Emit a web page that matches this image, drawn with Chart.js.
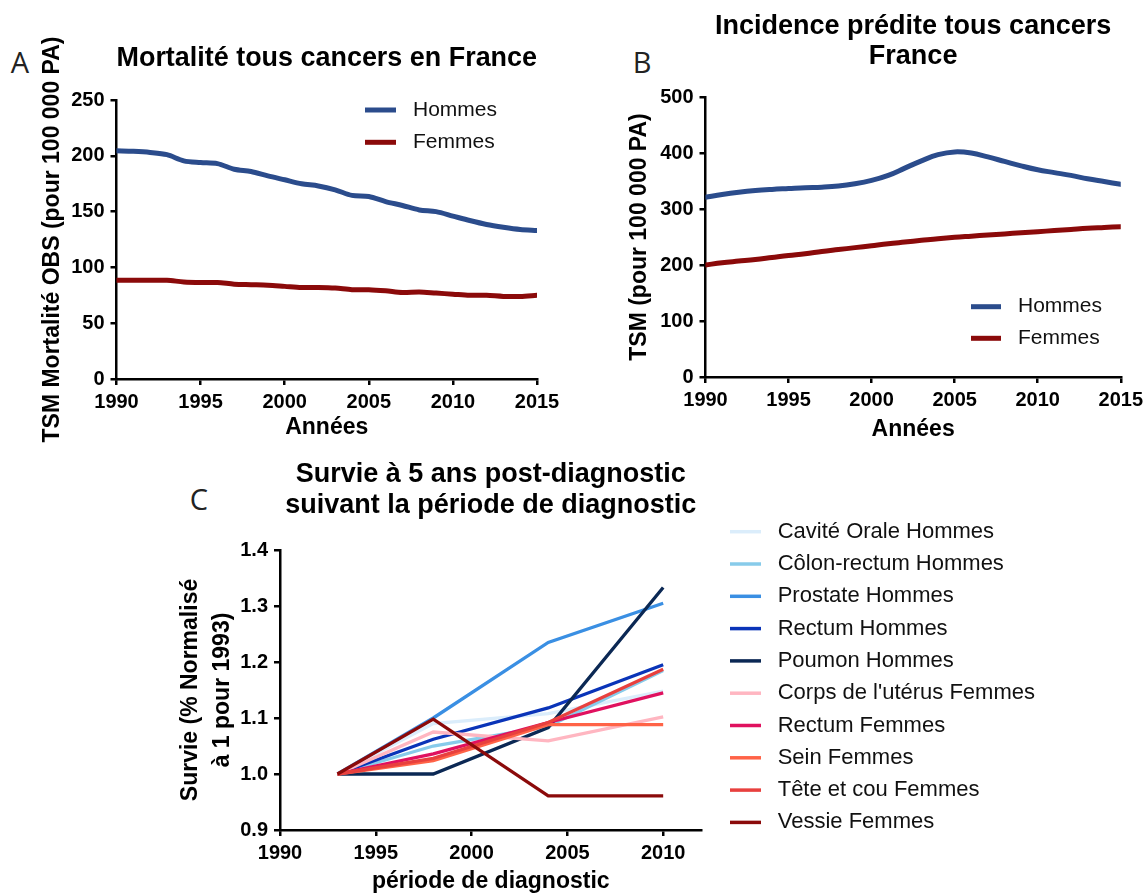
<!DOCTYPE html>
<html>
<head>
<meta charset="utf-8">
<script src="https://cdn.jsdelivr.net/npm/chart.js@4.4.0/dist/chart.umd.min.js"></script>
<style>
  body { margin: 0; background: #fff; width: 1148px; height: 895px; position: relative; overflow: hidden; }
  canvas { position: absolute; }
  .lettre { position: absolute; font-family: 'Open Sans', sans-serif; font-size: 29px; color: #222; transform: translate(-50%, -50%); line-height: 1; }
</style>
</head>
<body>
<div class="lettre" style="left:20px; top:61px">A</div>
<div class="lettre" style="left:642px; top:61px">B</div>
<div class="lettre" style="left:199px; top:498px">C</div>
<canvas id="chartA" width="570" height="450" style="left:0; top:0"></canvas>
<canvas id="chartB" width="558" height="450" style="left:590px; top:0"></canvas>
<canvas id="chartC" width="998" height="452" style="left:150px; top:445px"></canvas>
<script>
// --- données ---
const annees = [1990, 1991, 1992, 1993, 1994, 1995, 1996, 1997, 1998, 1999, 2000, 2001, 2002,
                2003, 2004, 2005, 2006, 2007, 2008, 2009, 2010, 2011, 2012, 2013, 2014, 2015];

const mortaliteHommes = [204.5, 204, 203, 201, 195.5, 194, 193, 188, 186, 182, 178.5, 175, 173,
                         169.5, 164.5, 163.5, 159, 155.5, 151.5, 150, 146, 142, 138.5, 136, 134, 133];
const mortaliteFemmes = [88.5, 88.5, 88.5, 88.5, 87, 86.5, 86.5, 85, 84.5, 84, 83, 82, 82,
                         81.5, 80, 80, 79, 77.5, 78, 77, 76, 75, 75, 74, 74, 75];

const incidenceHommes = [321, 326, 330, 333, 335, 336.5, 338, 339, 341, 345, 351, 360, 373,
                         386, 397, 402, 400, 393, 385, 377, 370, 365, 360, 354, 349, 344];
const incidenceFemmes = [200, 204, 207, 210, 213.5, 217, 220, 224, 227.5, 231, 234.5, 238, 241,
                         244, 247, 249.5, 251.5, 253.5, 255.5, 257.5, 259.5, 261.5, 263.5, 265.5, 267, 268.5];

const periodes = [1993, 1998, 2004, 2010];
const localisations = ['Cavité Orale Hommes', 'Côlon-rectum Hommes', 'Prostate Hommes', 'Rectum Hommes',
                       'Poumon Hommes', "Corps de l'utérus Femmes", 'Rectum Femmes', 'Sein Femmes',
                       'Tête et cou Femmes', 'Vessie Femmes'];
const survie = [
  [1, 1.09, 1.108, 1.148],
  [1, 1.05, 1.085, 1.185],
  [1, 1.10, 1.235, 1.305],
  [1, 1.062, 1.118, 1.195],
  [1, 1.0, 1.083, 1.333],
  [1, 1.075, 1.059, 1.102],
  [1, 1.036, 1.092, 1.145],
  [1, 1.024, 1.088, 1.088],
  [1, 1.028, 1.092, 1.187],
  [1, 1.098, 0.961, 0.961]
];
const couleursSurvie = ['#dbedfb', '#87cbea', '#3a8fe3', '#0a34b8', '#0b2854',
                        '#ffb6c1', '#e0115f', '#ff6347', '#e8403e', '#8b0a0a'];

const bleu = '#2b4c8c';
const rouge = '#8b0a0a';

Chart.defaults.font.family = "'Liberation Sans', Arial, sans-serif";
Chart.defaults.color = '#000';

// légende dessinée à une position fixe
const lineLegend = {
  id: 'lineLegend',
  afterDraw(chart, args, opts) {
    const ctx = chart.ctx;
    ctx.save();
    ctx.font = opts.font;
    ctx.textBaseline = 'middle';
    ctx.fillStyle = '#111';
    chart.data.datasets.forEach((ds, i) => {
      const y = opts.y + i * opts.dy;
      ctx.strokeStyle = ds.borderColor;
      ctx.lineWidth = opts.lineWidth;
      ctx.beginPath();
      ctx.moveTo(opts.x, y);
      ctx.lineTo(opts.x + opts.len, y);
      ctx.stroke();
      ctx.fillText(ds.label, opts.textX, y);
    });
    ctx.restore();
  }
};

function points(xs, ys) {
  return xs.map((x, i) => ({ x: x, y: ys[i] }));
}

function axeX(min, max, titre, hauteur) {
  return {
    type: 'linear', min: min, max: max,
    ticks: { stepSize: 5, includeBounds: false, padding: 5, maxRotation: 0,
             font: { size: 20, weight: 'bold' }, callback: v => String(v) },
    grid: { display: true, drawOnChartArea: false, drawTicks: true, tickLength: 6, color: '#000', lineWidth: 2.5 },
    border: { display: true, color: '#000', width: 2.5 },
    title: { display: true, text: titre, font: { size: 23, weight: 'bold' }, padding: { top: 0, bottom: 0 } },
    afterFit: s => { s.height = hauteur; }
  };
}

function axeY(min, max, pas, titre, largeur, decalage, fmt, interligne) {
  return {
    min: min, max: max,
    ticks: { stepSize: pas, padding: 6, font: { size: 20, weight: 'bold' }, callback: fmt },
    grid: { display: true, drawOnChartArea: false, drawTicks: true, tickLength: 6, color: '#000', lineWidth: 2.5 },
    border: { display: true, color: '#000', width: 2.5 },
    title: { display: true, text: titre, font: { size: 23, weight: 'bold', lineHeight: interligne || 1.2 },
             padding: { top: decalage, bottom: 0 } },
    afterFit: s => { s.width = largeur; }
  };
}

function serie(label, valeurs, couleur, xs, tension) {
  return {
    label: label, data: points(xs, valeurs), borderColor: couleur, backgroundColor: couleur,
    borderWidth: 5, pointRadius: 0, tension: tension, borderCapStyle: 'round', fill: false
  };
}

// A
new Chart(document.getElementById('chartA'), {
  type: 'line',
  data: { datasets: [
    serie('Hommes', mortaliteHommes, bleu, annees, 0.3),
    serie('Femmes', mortaliteFemmes, rouge, annees, 0.3)
  ] },
  options: {
    responsive: false, animation: false, devicePixelRatio: 1,
    layout: { padding: { top: 0, left: 0, right: 33, bottom: 8.2 } },
    scales: {
      x: axeX(1990, 2015, 'Années', 62.8),
      y: axeY(0, 250, 50, 'TSM Mortalité OBS (pour 100 000 PA)', 116.5, 39.2, v => String(v))
    },
    plugins: {
      legend: { display: false }, tooltip: { enabled: false },
      title: { display: true, fullSize: false, text: 'Mortalité tous cancers en France', color: '#000',
               font: { size: 27, weight: 'bold' }, padding: { top: 42, bottom: 25.6 } },
      lineLegend: { x: 365, len: 31, textX: 413, y: 110, dy: 32.3, lineWidth: 5,
                    font: "21px 'Liberation Sans', Arial, sans-serif" }
    }
  },
  plugins: [lineLegend]
});

// B
new Chart(document.getElementById('chartB'), {
  type: 'line',
  data: { datasets: [
    serie('Hommes', incidenceHommes, bleu, annees, 0.4),
    serie('Femmes', incidenceFemmes, rouge, annees, 0.4)
  ] },
  options: {
    responsive: false, animation: false, devicePixelRatio: 1,
    layout: { padding: { top: 0, left: 0, right: 24.5, bottom: 6.2 } },
    scales: {
      x: axeX(1990, 2015, 'Années', 66.8),
      y: axeY(0, 500, 100, 'TSM (pour 100 000 PA)', 115.5, 36.2, v => String(v))
    },
    plugins: {
      legend: { display: false }, tooltip: { enabled: false },
      title: { display: true, fullSize: false, text: ['Incidence prédite tous cancers', 'France'], color: '#000',
               font: { size: 27, weight: 'bold', lineHeight: 1.1 }, padding: { top: 11.5, bottom: 26.1 } },
      lineLegend: { x: 381, len: 30, textX: 428, y: 306.7, dy: 31.6, lineWidth: 5,
                    font: "21px 'Liberation Sans', Arial, sans-serif" }
    }
  },
  plugins: [lineLegend]
});

// C
new Chart(document.getElementById('chartC'), {
  type: 'line',
  data: { datasets: localisations.map((nom, i) => Object.assign(
    serie(nom, survie[i], couleursSurvie[i], periodes, 0),
    { borderWidth: 3.3, order: localisations.length - 1 - i, borderCapStyle: 'butt' }
  )) },
  options: {
    responsive: false, animation: false, devicePixelRatio: 1,
    layout: { padding: { top: 0, left: 0, right: 446.5, bottom: 1.5 } },
    scales: {
      x: axeX(1990, 2012, 'période de diagnostic', 65.5),
      y: axeY(0.9, 1.4, 0.1, ['Survie (% Normalisé', 'à 1 pour 1993)'], 130, 24.6, v => v.toFixed(1), 1.39)
    },
    plugins: {
      legend: { display: false }, tooltip: { enabled: false },
      title: { display: true, fullSize: false, text: ['Survie à 5 ans post-diagnostic', 'suivant la période de diagnostic'],
               color: '#000', font: { size: 27, weight: 'bold', lineHeight: 1.15 }, padding: { top: 14, bottom: 28.9 } },
      lineLegend: { x: 580, len: 31, textX: 627.7, y: 86.7, dy: 32.3, lineWidth: 3.5,
                    font: "22px 'Liberation Sans', Arial, sans-serif" }
    }
  },
  plugins: [lineLegend]
});
</script>
</body>
</html>
